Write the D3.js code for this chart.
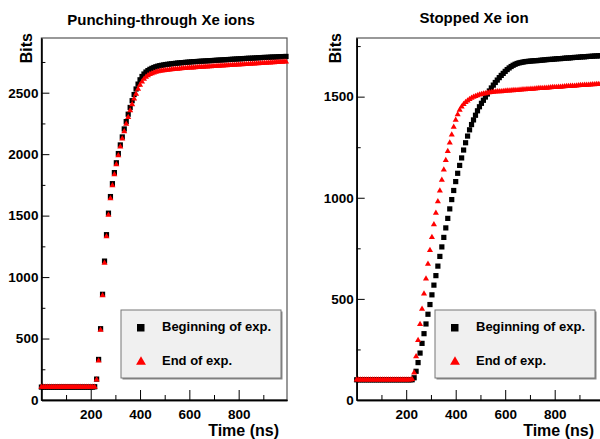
<!DOCTYPE html>
<html lang="en">
<head>
<meta charset="utf-8">
<title>Xe ion signals</title>
<script src="https://d3js.org/d3.v7.min.js"></script>
<style>
  body { margin: 0; background: #fff; }
  svg { display: block; font-family: "Liberation Sans", Arial, Helvetica, sans-serif; font-weight: bold; }
  .tick text { font-size: 13.5px; font-weight: bold; fill: #000; }
  .axis path, .axis line { stroke: #000; }
</style>
</head>
<body>
<svg width="600" height="439"></svg>
<script>
// digitizer sampling step in ns
var sampleStep = 8;

// punching-through ions, beginning of experiment
var punchBegin = [
  105,105,105,105,105,105,105,105,105,105,105,105,105,105,105,105,105,105,105,105,105,105,105,105,105,105,105,
  108,170,330,580,860,1130,1345,1520,1655,1760,
  1850,1930,2005,2075,2140,2205,2265,2325,2380,2435,
  2485,2530,2570,2605,2632,2652,2668,2680,2690,2698,
  2705,2711,2716,2720,
  2723,2726,2729,2731,2733,2735,2737,2739,2741,2742,
  2744,2745,2747,2748,2749,2751,2752,2753,2754,2755,
  2756,2757,2758,2759,2760,2761,2762,2763,2764,2765,
  2766,2767,2768,2769,2770,2771,2772,2773,2774,2775,
  2776,2777,2778,2779,2780,2780,2781,2782,2783,2784,
  2785,2786,2787,2787,2788,2789,2790,2790,2791,2792,
  2793,2793,2794,2795
];
// punching-through ions, end of experiment
var punchEnd = [
  105,105,105,105,105,105,105,105,105,105,105,105,105,105,105,105,105,105,105,105,105,105,105,105,105,105,105,
  106,165,320,570,850,1115,1330,1505,1640,1745,
  1835,1915,1990,2060,2125,2185,2245,2300,2355,2405,
  2450,2490,2530,2562,2590,2612,2628,2640,2650,2657,
  2663,2668,2672,2676,
  2679,2681,2683,2685,2687,2689,2690,2692,2693,2695,
  2696,2698,2699,2700,2702,2703,2704,2705,2707,2708,
  2709,2710,2711,2712,2713,2714,2715,2716,2717,2718,
  2719,2720,2721,2722,2723,2724,2725,2726,2727,2728,
  2729,2730,2731,2732,2733,2734,2735,2736,2737,2738,
  2739,2740,2741,2742,2743,2744,2745,2746,2747,2748,
  2749,2750,2751,2752
];
// stopped ion, beginning of experiment
var stopBegin = [
  100,100,100,100,100,100,100,100,100,100,100,100,100,100,100,100,100,100,100,100,100,100,100,100,100,100,100,100,100,
  110,142,185,232,280,328,376,424,472,520,
  568,615,662,710,757,804,851,898,945,991,
  1036,1080,1121,1160,1197,1236,1272,1305,1336,1362,
  1385,1408,1430,1450,1467,1482,1498,1513,1528,1543,
  1557,1570,1582,1594,1605,1615,1625,1634,1642,1649,
  1655,1660,1664,1667,1669,1671,
  1673,1674,1675,1676,1677,1678,1678,1679,1680,1681,
  1682,1683,1684,1684,1685,1686,1687,1688,1688,1689,
  1690,1691,1691,1692,1693,1694,1694,1695,1696,1697,
  1697,1698,1699,1699,1700,1701,1701,1702,1702,1703
];
// stopped ion, end of experiment
var stopEnd = [
  100,100,100,100,100,100,100,100,100,100,100,100,100,100,100,100,100,100,100,100,100,100,100,100,100,100,100,100,
  103,135,215,295,375,450,525,600,672,740,
  805,868,925,982,1035,1088,1138,1185,1230,1272,
  1312,1350,1384,1412,1434,1450,1462,1472,1480,1487,
  1493,1498,1502,1506,1509,1512,1514,1516,1518,1520,
  1522,1523,1524,1525,1525,1526,1527,1528,1529,1529,
  1530,1531,1532,1532,1533,1534,1535,1535,1536,1537,
  1538,1538,1539,1540,1541,1541,1542,1543,1543,1544,
  1545,1546,1546,1547,1548,1548,1549,1550,1551,1551,
  1552,1553,1553,1554,1555,1556,1556,1557,1558,1558,
  1559,1560,1560,1561,1561,1562,1562
];

var xTicks = [200, 400, 600, 800];
var xMinor = [100, 300, 500, 700, 900];
var punchYTicks = [0, 500, 1000, 1500, 2000, 2500];
var stopYTicks = [0, 500, 1000, 1500];
var legendLabels = ["Beginning of exp.", "End of exp."];

var svg = d3.select("svg");
var fmt = d3.format("d");

function toPoints(values) {
  return values.map(function(v, i) { return {t: i * sampleStep, v: v}; });
}

function drawPanel(p) {
  var x = d3.scaleLinear().domain([0, 996]).range([p.left, p.right]);
  var y = d3.scaleLinear().domain([0, p.yMax]).range([400, 38]);
  var g = svg.append("g");

  // frame
  g.append("rect")
    .attr("x", p.left).attr("y", 38)
    .attr("width", p.right - p.left).attr("height", 362)
    .attr("fill", "none").attr("stroke", "#555").attr("stroke-width", 1.2);

  // x axis, ticks pointing inward
  g.append("g").attr("class", "axis")
    .attr("transform", "translate(0,400)")
    .call(d3.axisBottom(x).tickValues(xTicks).tickFormat(fmt).tickSizeInner(-10).tickSizeOuter(0).tickPadding(9.5));
  g.append("g").attr("class", "axis")
    .attr("transform", "translate(0,400)")
    .call(d3.axisBottom(x).tickValues(xMinor).tickSizeInner(-5).tickSizeOuter(0).tickFormat(""));

  // y axis
  g.append("g").attr("class", "axis")
    .attr("transform", "translate(" + p.left + ",0)")
    .call(d3.axisLeft(y).tickValues(p.yTicks).tickFormat(fmt).tickSizeInner(-8).tickSizeOuter(0).tickPadding(3));
  g.append("g").attr("class", "axis")
    .attr("transform", "translate(" + p.left + ",0)")
    .call(d3.axisLeft(y).tickValues(p.yTicks.map(function(d) { return d + 250; })).tickSizeInner(-4).tickSizeOuter(0).tickFormat(""));

  g.selectAll(".domain").attr("stroke-width", 1.3);

  // black squares first, red triangles over them
  g.append("g").selectAll("rect")
    .data(toPoints(p.begin))
    .join("rect")
    .attr("x", function(d) { return x(d.t) - 2.6; })
    .attr("y", function(d) { return y(d.v) - 2.6; })
    .attr("width", 5.2).attr("height", 5.2)
    .attr("fill", "#000");

  var tri = d3.symbol().type(d3.symbolTriangle).size(16);
  g.append("g").selectAll("path")
    .data(toPoints(p.end))
    .join("path")
    .attr("transform", function(d) { return "translate(" + x(d.t) + "," + y(d.v) + ")"; })
    .attr("d", tri)
    .attr("fill", "#f00");

  // title and axis titles
  g.append("text")
    .attr("x", p.titleX).attr("y", p.titleY)
    .attr("text-anchor", "middle")
    .attr("font-size", 15)
    .text(p.title);
  g.append("text")
    .attr("transform", "translate(" + p.bitsX + ",33) rotate(-90)")
    .attr("text-anchor", "end")
    .attr("font-size", 16)
    .text("Bits");
  g.append("text")
    .attr("x", p.timeX).attr("y", 436)
    .attr("text-anchor", "end")
    .attr("font-size", 16)
    .text("Time (ns)");

  // legend
  var lg = g.append("g").attr("transform", "translate(" + p.legX + ",310)");
  lg.append("rect")
    .attr("x", 1.5).attr("y", 1.5).attr("width", 160).attr("height", 68)
    .attr("fill", "#888");
  lg.append("rect")
    .attr("width", 160).attr("height", 68)
    .attr("fill", "#f0f0f0").attr("stroke", "#777").attr("stroke-width", 1);
  lg.append("rect")
    .attr("x", 16).attr("y", 14).attr("width", 7.5).attr("height", 7.5)
    .attr("fill", "#000");
  lg.append("path")
    .attr("transform", "translate(20,52)")
    .attr("d", d3.symbol().type(d3.symbolTriangle).size(42))
    .attr("fill", "#f00");
  lg.selectAll(".lab")
    .data(legendLabels)
    .join("text")
    .attr("class", "lab")
    .attr("x", 41)
    .attr("y", function(d, i) { return 21 + i * 34; })
    .attr("font-size", 13)
    .text(function(d) { return d; });
}

drawPanel({
  left: 41.4, right: 287, yMax: 2945, yTicks: punchYTicks,
  begin: punchBegin, end: punchEnd,
  title: "Punching-through Xe ions", titleX: 161, titleY: 25,
  bitsX: 32, timeX: 279, legX: 121
});

drawPanel({
  left: 356.7, right: 603.2, yMax: 1790, yTicks: stopYTicks,
  begin: stopBegin, end: stopEnd,
  title: "Stopped Xe ion", titleX: 474, titleY: 23,
  bitsX: 341, timeX: 594, legX: 435
});
</script>
</body>
</html>
